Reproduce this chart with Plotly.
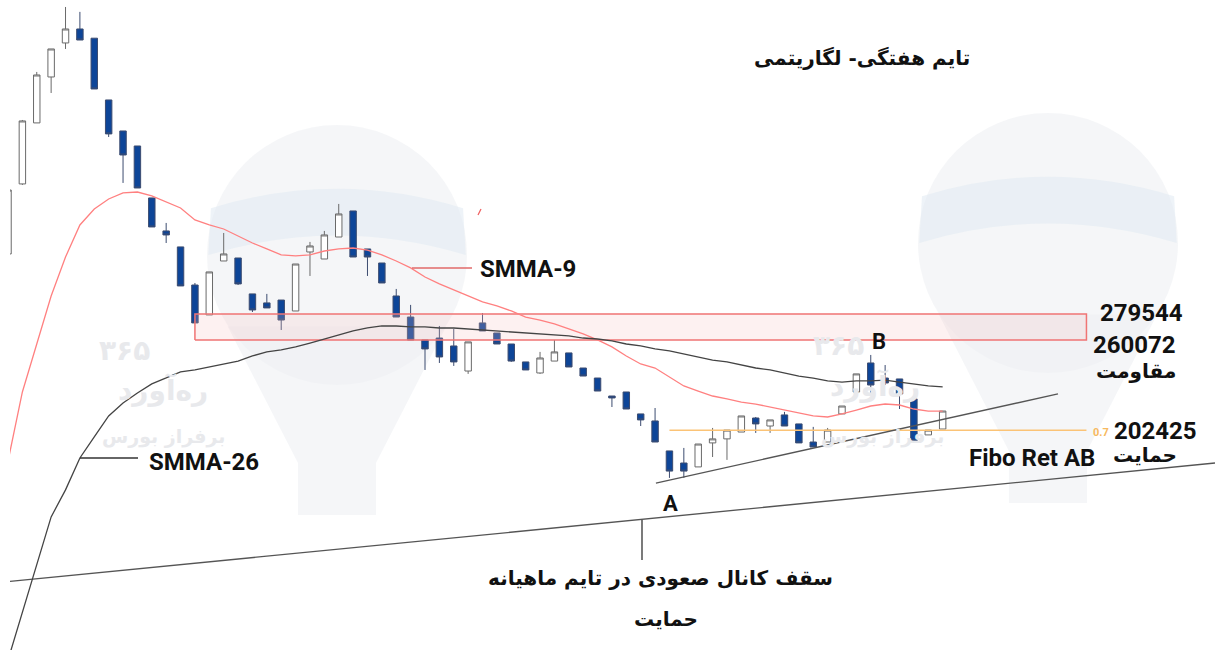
import math
import plotly.graph_objects as go

# ---------------- data (weekly candles, log scale) ----------------
idx = list(range(1, 67))
opens = [330300, 401200, 475300, 540000, 593500, 617000, 601400, 506600, 464800, 445800,
         385900, 352100, 336800, 303000, 278800, 323900, 326600, 295600, 288300, 290600,
         281900, 332100, 325700, 346200, 372200, 334900, 322100, 293900, 277200, 260100,
         261500, 255800, 238600, 272700, 265200, 257200, 244700, 237300, 245300, 250900,
         240600, 234000, 222600, 225100, 211800, 207700, 191100, 184800, 182800, 195400,
         197600, 201400, 209400, 204800, 211200, 206000, 195900, 195900, 211800, 225100,
         244000, 234000, 233400, 220800, 199800, 203100]
highs = [394500, 479200, 547600, 583700, 655900, 647000, 601400, 506600, 464800, 445800,
         385900, 360000, 336800, 304700, 314200, 350100, 326600, 295600, 295600, 290600,
         321200, 341500, 352100, 379500, 372200, 334900, 322100, 299700, 286700, 260100,
         270400, 268200, 258700, 280300, 265200, 257200, 244700, 251600, 260100, 250900,
         240600, 234000, 222600, 225100, 211800, 215300, 191100, 192700, 194800, 203700,
         202500, 210600, 210000, 208300, 213000, 206000, 204300, 203700, 216500, 236700,
         249500, 242600, 233400, 220800, 202500, 213500]
lows = [330300, 400100, 475300, 516500, 583700, 598400, 522300, 457100, 402300, 396700,
        356000, 340500, 302200, 272700, 278800, 323900, 303000, 281100, 284300, 267400,
        281900, 310700, 325700, 346200, 327500, 310700, 304700, 277200, 260100, 239300,
        244000, 242000, 236700, 266700, 257200, 244700, 239300, 236700, 245300, 241300,
        235300, 225700, 215900, 214700, 204800, 195900, 177300, 177300, 182800, 187900,
        186400, 201400, 200900, 200900, 204800, 195400, 193200, 195900, 211800, 225100,
        224500, 229500, 214700, 195400, 199800, 203100]
closes = [394500, 477900, 543000, 583700, 617000, 598400, 522300, 461000, 434800, 396700,
          356000, 348200, 302200, 272700, 314200, 330300, 303900, 282700, 284300, 274900,
          321200, 337700, 348200, 369100, 327500, 327500, 304700, 277200, 260100, 253700,
          248100, 244700, 258700, 266700, 257200, 245300, 239300, 247400, 251600, 241300,
          235300, 225700, 221400, 214700, 208300, 195900, 180700, 180700, 194800, 197600,
          202500, 210600, 206000, 208300, 204800, 195400, 193200, 202500, 216500, 236700,
          229500, 230800, 223900, 196500, 202500, 213500]

smma9 = [185800, 225100, 257200, 293900, 327500, 358000, 374200, 384800, 391300, 392300,
         388000, 381600, 375300, 363000, 358000, 354000, 347200, 340500, 334900, 329400,
         328500, 329400, 333000, 334900, 335800, 333900, 329400, 323900, 317700, 309800,
         303900, 298800, 293900, 289100, 285900, 281900, 277200, 274900, 271900, 268200,
         264600, 260100, 255100, 248800, 243300, 240600, 234700, 228900, 225700, 222600,
         220800, 218900, 217700, 215900, 214100, 212400, 210600, 210000, 211800, 214100,
         216500, 217700, 217100, 214700, 213500, 213500]
smma26 = [106900, 122200, 139200, 159100, 171500, 187400, 198700, 210600, 218300, 224500,
          230200, 234000, 238000, 239300, 241300, 243300, 245300, 248800, 251600, 253000,
          255100, 257900, 260800, 263700, 266700, 268900, 270400, 270400, 269700, 269700,
          268900, 268900, 268200, 267400, 266700, 265900, 265200, 264500, 263700, 263000,
          261500, 260800, 259400, 257200, 255800, 253700, 252300, 250200, 248100, 246000,
          244700, 242600, 240600, 239300, 237300, 235300, 234000, 232100, 231400, 232100,
          232100, 232700, 231400, 230200, 228900, 228300]

res_top = 279544
res_bot = 260072
fibo_level = 202425
zone_x = [14.0, 76.0]
fibo_x = [47.0, 76.0]
ab_x = [46.06, 74.02]
ab_y = [174800, 223900]
chan_x = [1.139, 84.94]
chan_y = [133000, 184800]

res_labels = ["279544", "260072"]
fibo_label = "202425"

# ---------------- layout helpers ----------------
W, H = 1215, 650
ML = 10
PW = W - ML


def P(px, py):
    return (px - ML) / PW, 1 - py / H


FONT = "Roboto, 'DejaVu Sans', sans-serif"
FA = "'DejaVu Sans', Roboto, sans-serif"

fig = go.Figure()

# resistance zone
fig.add_trace(go.Scatter(
    x=[zone_x[0], zone_x[1], zone_x[1], zone_x[0], zone_x[0]],
    y=[res_bot, res_bot, res_top, res_top, res_bot],
    mode="lines", fill="toself", fillcolor="rgba(246,190,190,0.22)",
    line=dict(color="#f07474", width=1.5), hoverinfo="skip", showlegend=False))

# fibo line
fig.add_trace(go.Scatter(x=fibo_x, y=[fibo_level, fibo_level], mode="lines",
                         line=dict(color="#fbc376", width=1.6), hoverinfo="skip", showlegend=False))

# channel lines
fig.add_trace(go.Scatter(x=chan_x, y=chan_y, mode="lines",
                         line=dict(color="#555", width=1.3), hoverinfo="skip", showlegend=False))
fig.add_trace(go.Scatter(x=ab_x, y=ab_y, mode="lines",
                         line=dict(color="#555", width=1.3), hoverinfo="skip", showlegend=False))

# moving averages
fig.add_trace(go.Scatter(x=idx, y=smma9, mode="lines", line=dict(color="#ff8080", width=1.3),
                         hoverinfo="skip", showlegend=False))
fig.add_trace(go.Scatter(x=idx, y=smma26, mode="lines", line=dict(color="#444", width=1.3),
                         hoverinfo="skip", showlegend=False))

# candles
fig.add_trace(go.Candlestick(
    x=idx, open=opens, high=highs, low=lows, close=closes,
    increasing=dict(fillcolor="#ffffff", line=dict(color="#6a6a6a", width=1)),
    decreasing=dict(fillcolor="#0d4598", line=dict(color="#3c4c70", width=1)),
    showlegend=False, hoverinfo="skip"))

shapes = []
# watermark bulbs
WM = "rgba(238,240,244,0.6)"
for cx, cy, r in [(337, 255, 130), (1048, 243, 130)]:
    x0, y1 = P(cx - r, cy - r)
    x1, y0 = P(cx + r, cy + r)
    shapes.append(dict(type="circle", xref="paper", yref="paper", x0=x0, x1=x1, y0=y0, y1=y1,
                       fillcolor=WM, line=dict(width=0), layer="below"))
    pts = [(cx - 0.84 * r, cy + 0.55 * r), (cx + 0.84 * r, cy + 0.55 * r),
           (cx + 0.3 * r, cy + 1.6 * r), (cx + 0.3 * r, cy + 2.0 * r),
           (cx - 0.3 * r, cy + 2.0 * r), (cx - 0.3 * r, cy + 1.6 * r)]
    pp = [P(a, b) for a, b in pts]
    path = "M" + " L".join(f"{a:.4f},{b:.4f}" for a, b in pp) + " Z"
    shapes.append(dict(type="path", xref="paper", yref="paper", path=path,
                       fillcolor=WM, line=dict(width=0), layer="below"))
    b1 = P(cx - 0.97 * r, cy - 0.36 * r)
    b2 = P(cx, cy - 0.66 * r)
    b3 = P(cx + 0.97 * r, cy - 0.36 * r)
    b4 = P(cx + 0.99 * r, cy + 0.0 * r)
    b5 = P(cx, cy - 0.3 * r)
    b6 = P(cx - 0.99 * r, cy + 0.0 * r)
    bpath = (f"M{b1[0]:.4f},{b1[1]:.4f} Q{b2[0]:.4f},{b2[1]:.4f} {b3[0]:.4f},{b3[1]:.4f} "
             f"L{b4[0]:.4f},{b4[1]:.4f} Q{b5[0]:.4f},{b5[1]:.4f} {b6[0]:.4f},{b6[1]:.4f} Z")
    shapes.append(dict(type="path", xref="paper", yref="paper", path=bpath,
                       fillcolor="rgba(224,233,243,0.55)", line=dict(width=0), layer="below"))

# leader lines
for (xa, ya, xb, yb, col) in [(412, 268, 472, 268, "#e06a6a"), (80, 458, 138, 458, "#333"),
                              (642, 520, 642, 560, "#333"), (478, 215, 481, 209, "#f06060")]:
    a = P(xa, ya)
    b = P(xb, yb)
    shapes.append(dict(type="line", xref="paper", yref="paper", x0=a[0], y0=a[1], x1=b[0], y1=b[1],
                       line=dict(color=col, width=1.3)))

annotations = []


def txt(text, px, py, size, color="#111", bold=True, anchor="center", family=FONT):
    x, y = P(px, py)
    annotations.append(dict(text=f"<b>{text}</b>" if bold else text, x=x, y=y, xref="paper", yref="paper",
                            xanchor=anchor, yanchor="middle", showarrow=False,
                            font=dict(size=size, color=color, family=family)))


# watermark texts
for (t, px, py, s) in [("۳۶۵", 125, 350, 28), ("ره‌آورد", 163, 390, 28), ("برفراز بورس", 163, 436, 19),
                       ("۳۶۵", 838, 345, 28), ("ره‌آورد", 875, 386, 28), ("برفراز بورس", 882, 436, 19)]:
    txt(t, px, py, s, color="#e8e9ec", family=FA)

txt("تایم هفتگی- لگاریتمی", 862, 58, 20, family=FA)
txt("SMMA-9", 478, 269, 24, anchor="left")
txt("SMMA-26", 147, 462, 24, anchor="left")
txt(res_labels[0], 1141, 313, 24)
txt(res_labels[1], 1134, 345, 24)
txt("مقاومت", 1136, 371, 20, family=FA)
txt(fibo_label, 1155, 431, 24)
txt("حمایت", 1145, 455, 20, family=FA)
txt("Fibo Ret AB", 1032, 458, 24)
txt("0.7", 1101, 432, 11, color="#f7b960")
txt("B", 879, 341, 22)
txt("A", 670, 504, 22)
txt("سقف کانال صعودی در تایم ماهیانه", 660, 578, 20, family=FA)
txt("حمایت", 666, 619, 20, family=FA)

fig.update_layout(
    width=W, height=H,
    margin=dict(l=ML, r=0, t=0, b=0),
    paper_bgcolor="white", plot_bgcolor="white",
    boxgap=0.36,
    shapes=shapes, annotations=annotations,
    xaxis=dict(range=[1.139, 84.94], visible=False, rangeslider=dict(visible=False), fixedrange=True),
    yaxis=dict(type="log", range=[math.log10(109930), math.log10(668730)], visible=False, fixedrange=True),
    showlegend=False,
)

fig.write_html("out.html", config={"displayModeBar": False},
               post_script="document.body.style.margin='0';document.body.style.padding='0';")
